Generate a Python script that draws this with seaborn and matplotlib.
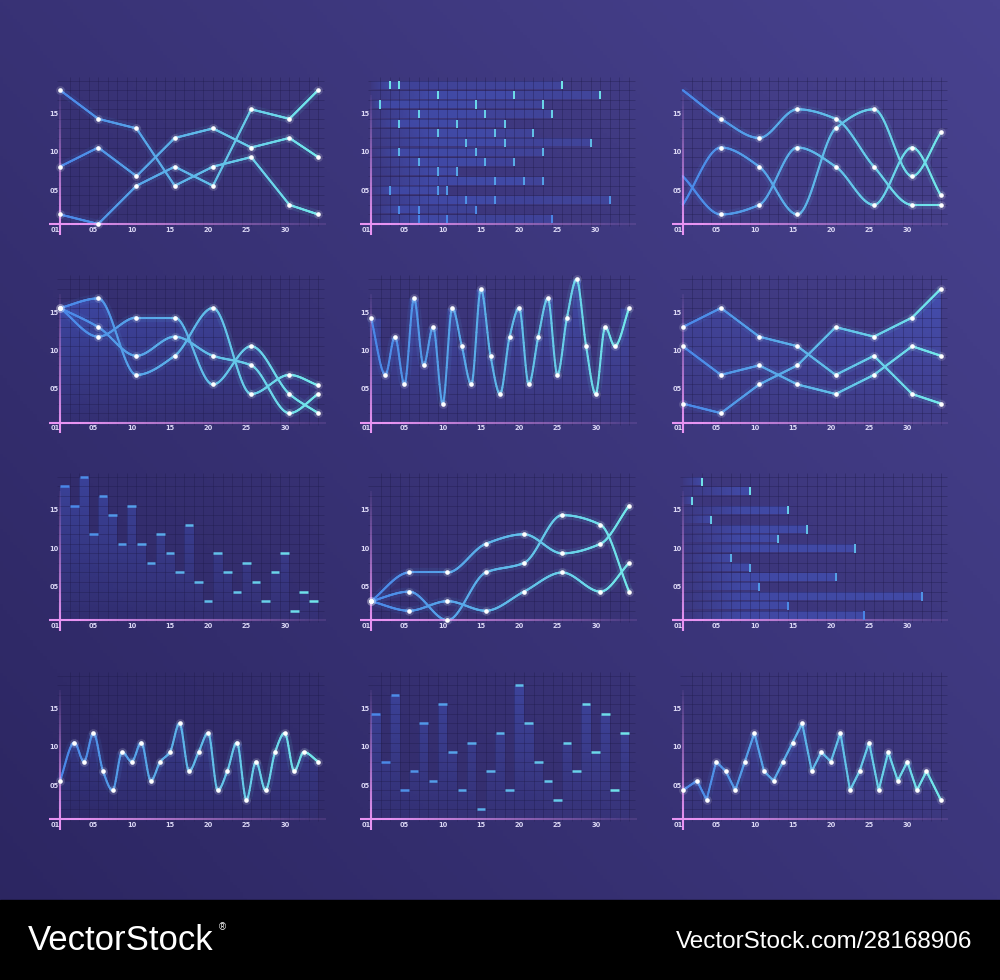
import numpy as np
import matplotlib
matplotlib.use("Agg")
import matplotlib.pyplot as plt
import seaborn as sns
from matplotlib.collections import LineCollection
from matplotlib.colors import LinearSegmentedColormap, to_rgb
from matplotlib.patches import PathPatch, Rectangle
from matplotlib.path import Path

sns.set_theme(style="dark")
plt.rcParams['font.family'] = ['DejaVu Sans']

# ---- data, in grid cells (4 cells = 5 label units) ----
x8 = [0, 4, 8, 12, 16, 20, 24, 27]
x27 = [0] + [k + 0.5 for k in range(1, 26)] + [27]
bar_x = list(range(27))

x_labels = ["01", "05", "10", "15", "20", "25", "30"]
x_ticks = [-0.5, 3.5, 7.5, 11.5, 15.5, 19.5, 23.5]
y_labels = ["05", "10", "15"]
y_ticks = [3.5, 7.5, 11.5]

p1_a = [14, 11, 10, 4, 6, 7, 2, 1]
p1_b = [6, 8, 5, 9, 10, 8, 9, 7]
p1_c = [1, 0, 4, 6, 4, 12, 11, 14]

# bottom row first
p2_marks = [[5, 8, 19], [3, 5, 11], [10, 13, 25], [2, 7, 8], [13, 16, 18],
            [7, 9], [5, 12, 15], [3, 11, 18], [10, 14, 23], [7, 13, 17],
            [3, 9, 14], [5, 12, 19], [1, 11, 18], [7, 15, 24], [2, 3, 20]]

p3_a = [14, 11, 9, 12, 11, 6, 2, 2]
p3_b = [2, 8, 6, 1, 10, 12, 5, 9.6]
p3_c = [5, 1, 2, 8, 6, 2, 8, 3]

p4_a = [12, 13, 5, 7, 12, 3, 5, 3.9]
p4_b = [12, 9, 11, 11, 4, 8, 3, 1]
p4_c = [12, 10, 7, 9, 7, 6, 1, 3]

p5 = [11, 5, 9, 4, 13, 6, 10, 2, 12, 8, 4, 14, 7, 3, 9, 12, 4, 9, 13, 5,
      11, 15, 8, 3, 10, 8, 12]

p6_a = [10, 12, 9, 8, 5, 7, 3, 2]
p6_b = [8, 5, 6, 4, 3, 5, 8, 7]
p6_c = [2, 1, 4, 6, 10, 9, 11, 14]

p7 = [14, 12, 15, 9, 13, 11, 8, 12, 8, 6, 9, 7, 5, 10, 4, 2, 7, 5, 3, 6,
      4, 2, 5, 7, 1, 3, 2]

p8_a = [2, 5, 5, 8, 9, 7, 8, 12]
p8_b = [2, 3, 0, 5, 6, 11, 10, 3]
p8_c = [2, 1, 2, 1, 3, 5, 3, 6]

p9_ends = [19, 11, 25, 8, 16, 7, 5, 18, 10, 13, 3, 11, 1, 7, 2]

p10 = [4, 8, 6, 9, 5, 3, 7, 6, 8, 4, 6, 7, 10, 5, 7, 9, 3, 5, 8, 2, 6, 3,
       7, 9, 5, 7, 6]

p11 = [11, 6, 13, 3, 5, 10, 4, 12, 7, 3, 8, 1, 5, 9, 3, 14, 10, 6, 4, 2, 8,
       5, 12, 7, 11, 3, 9]

p12 = [3, 4, 2, 6, 5, 3, 6, 9, 5, 4, 6, 8, 10, 5, 7, 6, 9, 3, 5, 8, 3, 7, 4,
       6, 3, 5, 2]

# ---- style ----
W, H, C = 1000, 980, 9.56
CMAP = LinearSegmentedColormap.from_list("bc", ["#4a86e8", "#72e8ea"])
FILL = np.array(to_rgb("#4662dc"))
PINK = np.array(to_rgb("#e894f2"))
GRID = "#1e1a4a"
LABEL = "#dcd8f5"

fig = plt.figure(figsize=(W / 100, H / 100), dpi=100)

bg = fig.add_axes([0, 0, 1, 1])
bg.axis('off')
u = np.linspace(0, 1, 300)
gx, gy = np.meshgrid(u, u)
bgmap = LinearSegmentedColormap.from_list("bg", ["#2b2560", "#48428f"])
bg.imshow(0.55 * gx + 0.45 * (1 - gy), cmap=bgmap, extent=[0, 1, 0, 1],
          aspect='auto', origin='upper')
bg.add_patch(Rectangle((0, 0), 1, 80 / H, color='black'))
bg.set_xlim(0, 1)
bg.set_ylim(0, 1)


def make_panel(x0, y0):
    ax = fig.add_axes([(x0 - 2 * C) / W, (H - y0 - 1.5 * C) / H,
                       30.5 * C / W, 17.5 * C / H])
    ax.axis('off')
    ax.hlines(np.arange(1, 16), -0.3, 27.6, colors=GRID, lw=0.7, alpha=0.35, zorder=2)
    ax.vlines(np.arange(1, 28), -0.2, 15.4, colors=GRID, lw=0.7, alpha=0.35, zorder=2)
    n = 80
    xs = np.linspace(-1.1, 27.8, n)
    a = np.clip(1.1 - (xs[:-1] + 1) / 28, 0.12, 1)
    ax.add_collection(LineCollection([[(xs[i], 0), (xs[i + 1], 0)] for i in range(n - 1)],
                                     colors=[(*PINK, ai) for ai in a], lw=1.5, zorder=6))
    ys = np.linspace(-1.1, 13.5, n)
    a = np.clip(1.05 - (ys[:-1] + 1) / 14.5, 0, 1)
    ax.add_collection(LineCollection([[(0, ys[i]), (0, ys[i + 1])] for i in range(n - 1)],
                                     colors=[(*PINK, ai) for ai in a], lw=1.5, zorder=6))
    for lab, xv in zip(x_labels, x_ticks):
        ax.text(xv, -0.6, lab, color=LABEL, fontsize=4.8, fontweight='bold',
                ha='center', va='center', zorder=8)
    for lab, yv in zip(y_labels, y_ticks):
        ax.text(-0.6, yv, lab, color=LABEL, fontsize=4.8, fontweight='bold',
                ha='center', va='center', zorder=8)
    return ax


def finish(ax):
    ax.set_xlim(-2, 28.5)
    ax.set_ylim(-1.5, 16)


def pchip(x, y, n=400):
    x = np.asarray(x, float)
    y = np.asarray(y, float)
    h = np.diff(x)
    d = np.diff(y) / h
    m = np.zeros_like(y)
    for k in range(1, len(x) - 1):
        if d[k - 1] * d[k] > 0:
            w1 = 2 * h[k] + h[k - 1]
            w2 = h[k] + 2 * h[k - 1]
            m[k] = (w1 + w2) / (w1 / d[k - 1] + w2 / d[k])
    m[0] = d[0]
    m[-1] = d[-1]
    xs = np.linspace(x[0], x[-1], n)
    i = np.clip(np.searchsorted(x, xs, side='right') - 1, 0, len(x) - 2)
    t = (xs - x[i]) / h[i]
    ys = ((2 * t**3 - 3 * t**2 + 1) * y[i] + (t**3 - 2 * t**2 + t) * h[i] * m[i]
          + (-2 * t**3 + 3 * t**2) * y[i + 1] + (t**3 - t**2) * h[i] * m[i + 1])
    return xs, ys


def polyline(x, y, n=400):
    xs = np.unique(np.concatenate([np.linspace(x[0], x[-1], n), x]))
    return xs, np.interp(xs, x, y)


def draw_curve(ax, xs, ys, lw=1.5):
    pts = np.column_stack([xs, ys]).reshape(-1, 1, 2)
    segs = np.concatenate([pts[:-1], pts[1:]], axis=1)
    cols = CMAP(np.clip(xs[:-1] / 27, 0, 1))
    ax.add_collection(LineCollection(segs, colors=cols, linewidths=lw * 4, alpha=0.1, zorder=4))
    ax.add_collection(LineCollection(segs, colors=cols, linewidths=lw, zorder=5,
                                     capstyle='round', joinstyle='round'))


def dots(ax, x, y):
    sns.scatterplot(x=x, y=y, ax=ax, color='white', s=40, alpha=0.15, linewidth=0,
                    zorder=6, legend=False)
    sns.scatterplot(x=x, y=y, ax=ax, color='white', s=11, linewidth=0, zorder=7, legend=False)


def grad_fill(ax, path, alpha_fn, z=1):
    patch = PathPatch(path, facecolor='none', edgecolor='none')
    ax.add_patch(patch)
    X, Y = np.meshgrid(np.linspace(0, 28, 280), np.linspace(0, 16, 160))
    img = np.zeros(X.shape + (4,))
    img[..., :3] = FILL
    img[..., 3] = np.clip(alpha_fn(X, Y), 0, 1)
    im = ax.imshow(img, extent=[0, 28, 0, 16], origin='lower', aspect='auto',
                   interpolation='bilinear', zorder=z)
    im.set_clip_path(patch)


def bars_path(lefts, heights, w=1.0):
    verts, codes = [], []
    for l, h in zip(lefts, heights):
        verts += [(l, 0), (l + w, 0), (l + w, h), (l, h), (l, 0)]
        codes += [Path.MOVETO, Path.LINETO, Path.LINETO, Path.LINETO, Path.CLOSEPOLY]
    return Path(verts, codes)


def area_path(xs, env):
    verts = [(xs[0], 0)] + list(zip(xs, env)) + [(xs[-1], 0), (xs[0], 0)]
    return Path(verts, closed=True)


def hbars(ax, rows):
    X, Y = np.meshgrid(np.linspace(0, 28, 561), np.linspace(0, 15, 301))
    A = np.zeros_like(X)
    for k, marks in enumerate(rows):
        band = (Y >= k + 0.07) & (Y <= k + 0.93)
        edges = [0] + list(marks)
        for j in range(len(marks)):
            sel = band & (X >= edges[j]) & (X <= edges[j + 1])
            if j == 0:
                A[sel] = 0.06 + 0.36 * np.clip(X[sel] / min(marks[0], 6), 0, 1)
            else:
                A[sel] = [0.42, 0.28][(j - 1) % 2]
        ax.vlines(marks, k + 0.07, k + 0.93, colors=[CMAP(k / 14)], lw=1.4, zorder=6)
    img = np.zeros(X.shape + (4,))
    img[..., :3] = FILL
    img[..., 3] = A
    ax.imshow(img, extent=[0, 28, 0, 15], origin='lower', aspect='auto',
              interpolation='nearest', zorder=1)


def bar_caps(ax, lefts, heights):
    ax.hlines(heights, np.array(lefts) + 0.05, np.array(lefts) + 0.95,
              colors=CMAP(np.array(lefts) / 27), lw=1.8, zorder=6)


# ---- row 1 ----
ax = make_panel(60, 224)
for line in [p1_a, p1_b, p1_c]:
    draw_curve(ax, *polyline(x8, line))
    dots(ax, x8, line)
finish(ax)

ax = make_panel(370.7, 224)
hbars(ax, p2_marks)
finish(ax)

ax = make_panel(682.7, 224)
for line in [p3_a, p3_b, p3_c]:
    draw_curve(ax, *pchip(x8, line))
    dots(ax, x8[1:], line[1:])
finish(ax)

# ---- row 2 ----
ax = make_panel(60, 422.7)
curves = [pchip(x8, line) for line in [p4_a, p4_b, p4_c]]
env = np.max([c[1] for c in curves], axis=0)
grad_fill(ax, area_path(curves[0][0], env),
          lambda X, Y: (0.05 + 0.45 * Y / 14) * (1 - 0.45 * X / 27))
for (xs, ys), line in zip(curves, [p4_a, p4_b, p4_c]):
    draw_curve(ax, xs, ys)
    dots(ax, x8, line)
finish(ax)

ax = make_panel(371, 422.7)
grad_fill(ax, bars_path(bar_x, p5), lambda X, Y: 0.04 + 0.36 * Y / 15)
draw_curve(ax, *pchip(x27, p5))
dots(ax, x27, p5)
finish(ax)

ax = make_panel(682.7, 422.7)
curves = [polyline(x8, line) for line in [p6_a, p6_b, p6_c]]
xs_common = curves[0][0]
env = np.max([np.interp(xs_common, c[0], c[1]) for c in curves], axis=0)
grad_fill(ax, area_path(xs_common, env),
          lambda X, Y: (0.05 + 0.42 * Y / 14) * (0.6 + 0.4 * X / 27))
for (xs, ys), line in zip(curves, [p6_a, p6_b, p6_c]):
    draw_curve(ax, xs, ys)
    dots(ax, x8, line)
finish(ax)

# ---- row 3 ----
ax = make_panel(60, 620.3)
grad_fill(ax, bars_path(bar_x, p7), lambda X, Y: 0.06 + 0.34 * Y / 15)
bar_caps(ax, bar_x, p7)
finish(ax)

ax = make_panel(371, 620.3)
for line in [p8_a, p8_b, p8_c]:
    draw_curve(ax, *pchip(x8, line))
    dots(ax, x8, line)
finish(ax)

ax = make_panel(682.7, 620.3)
hbars(ax, [[e] for e in p9_ends])
finish(ax)

# ---- row 4 ----
ax = make_panel(60, 819)
grad_fill(ax, bars_path(bar_x, p10), lambda X, Y: 0.04 + 0.36 * Y / 15)
draw_curve(ax, *pchip(x27, p10))
dots(ax, x27, p10)
finish(ax)

ax = make_panel(371, 819)
grad_fill(ax, bars_path(bar_x, p11), lambda X, Y: 0.06 + 0.34 * Y / 15)
bar_caps(ax, bar_x, p11)
finish(ax)

ax = make_panel(682.7, 819)
grad_fill(ax, bars_path(bar_x, p12), lambda X, Y: 0.04 + 0.36 * Y / 15)
draw_curve(ax, *polyline(x27, p12))
dots(ax, x27, p12)
finish(ax)

# ---- footer ----
fig.text(28 / W, 1 - 940 / H, "VectorStock", color='white', fontsize=25,
         family='Liberation Sans', ha='left', va='center')
fig.text(219 / W, 1 - 927 / H, "®", color='white', fontsize=7,
         family='Liberation Sans', ha='left', va='center')
fig.text(972 / W, 1 - 942 / H, "VectorStock.com/28168906", color='white', fontsize=17.5,
         family='Liberation Sans', ha='right', va='center')

fig.savefig("out.png", dpi=100)
